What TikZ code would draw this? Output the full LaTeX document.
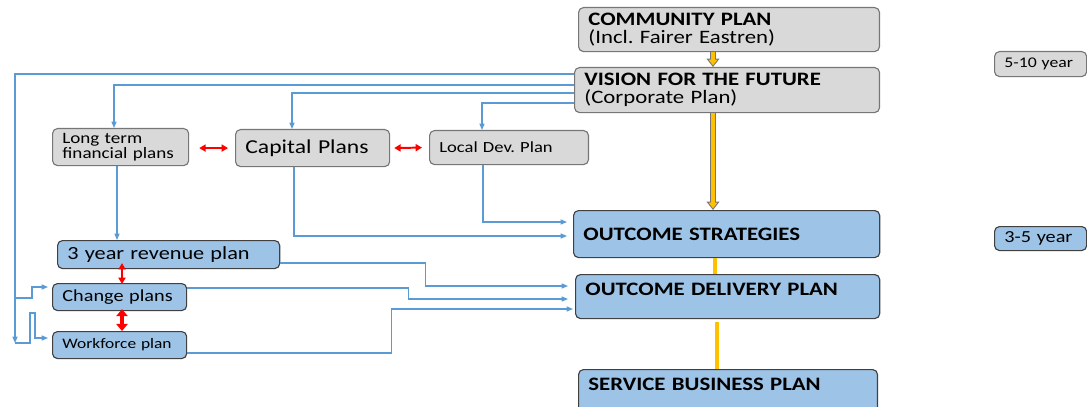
\documentclass[tikz,border=0pt]{standalone}
\usepackage{fontspec}
\setmainfont{Carlito}[FakeStretch=1.2]
\frenchspacing
\usetikzlibrary{arrows.meta, positioning, calc}
\definecolor{boxgray}{HTML}{D9D9D9}
\definecolor{boxblue}{HTML}{9DC3E6}
\definecolor{linkblue}{HTML}{5B9BD5}
\definecolor{gold}{HTML}{FFC000}
\definecolor{edgegray}{HTML}{767676}

\begin{document}
\begin{tikzpicture}[x=0.025cm, y=-0.025cm,
  plan/.style={draw=edgegray, fill=boxgray, rounded corners=3.5pt, anchor=north west,
    align=left, inner xsep=7pt, inner ysep=1pt, line width=0.8pt},
  bplan/.style={plan, draw=black!75, fill=boxblue},
  head/.style={font=\fontsize{13.5}{12.7}\selectfont},
  bhead/.style={font=\bfseries\fontsize{13.5}{15}\selectfont},
  link/.style={draw=linkblue, line width=0.8pt, -{Triangle[length=4.5pt, width=3.6pt]}},
  redarr/.style={red, line width=1.4pt, {Triangle[length=4.5pt, width=5pt]}-{Triangle[length=4.5pt, width=5pt]}},
  goldedge/.style={edgegray, line width=4.2pt, -{Triangle[length=6pt, width=9pt]}},
  goldfill/.style={gold, line width=2.4pt, shorten >=1.2pt, -{Triangle[length=4pt, width=6pt]}}]

\useasboundingbox (0,0) rectangle (1087,407);

% main column
\node[plan, head, text width=7.03cm, minimum height=1.1cm] (cp) at (578,7) {\textbf{COMMUNITY PLAN}\\(Incl. Fairer Eastren)};
\node[plan, head, text width=7.13cm, minimum height=1.125cm] (vis) at (574,67) {\textbf{VISION FOR THE FUTURE}\\(Corporate Plan)};
\node[bplan, bhead, text width=7.16cm, minimum height=1.175cm] (ost) at (573,210) {OUTCOME STRATEGIES};
\node[bplan, bhead, text width=7.11cm, minimum height=1.1cm, text depth=10pt] (odp) at (575,274) {OUTCOME DELIVERY PLAN};
\node[bplan, bhead, text width=6.98cm, minimum height=1.125cm, text depth=10.5pt] (sbp) at (578,369) {SERVICE BUSINESS PLAN};

% time scales
\node[plan, font=\fontsize{10.5}{12}\selectfont, text width=1.81cm, minimum height=0.625cm] (y510) at (994,51) {5-10 year};
\node[bplan, font=\fontsize{12}{14}\selectfont, text width=1.81cm, minimum height=0.6cm] (y35) at (994,226) {3-5 year};

% supporting plans
\node[plan, font=\fontsize{11.3}{9}\selectfont, text width=2.91cm, minimum height=0.925cm] (ltf) at (52,128) {Long term\\financial plans};
\node[plan, font=\fontsize{14}{16}\selectfont, text width=3.36cm, minimum height=0.925cm] (cap) at (235,129) {Capital Plans};
\node[plan, font=\fontsize{11}{13}\selectfont, text width=3.48cm, minimum height=0.85cm] (ldp) at (429,130) {Local Dev. Plan};
\node[bplan, font=\fontsize{13.2}{15}\selectfont, text width=5.06cm, minimum height=0.7cm] (rev) at (57,240) {3 year revenue plan};
\node[bplan, font=\fontsize{12}{14}\selectfont, text width=2.86cm, minimum height=0.675cm] (chg) at (52,283) {Change plans};
\node[bplan, font=\fontsize{10.3}{12}\selectfont, text width=2.86cm, minimum height=0.675cm] (wfp) at (52,331) {Workforce plan};

% gold flow down the column
\draw[goldedge] ($(cp.south west)+(135,0)$) -- ($(vis.north west)+(139,0)$);
\draw[goldfill] ($(cp.south west)+(135,0)$) -- ($(vis.north west)+(139,0)$);
\draw[goldedge] ($(vis.south west)+(139,0)$) -- ($(ost.north west)+(140,0)$);
\draw[goldfill] ($(vis.south west)+(139,0)$) -- ($(ost.north west)+(140,0)$);
\draw[gold, line width=2.8pt] ($(ost.south west)+(142,0)$) -- ($(odp.north west)+(140,0)$);
\draw[gold, line width=2.8pt] ($(odp.south west)+(142,3)$) -- ($(sbp.north west)+(139,0)$);

% links out of the vision
\coordinate (bus) at (15,343);
\coordinate (jc) at (15,298);
\draw[link] ($(vis.north west)+(0,7)$) -| (bus);
\draw[link] (jc) -- ++(17,0) |- ($(chg.north west)+(-4,4)$);
\draw[link] (bus) -- ++(15,0) -- ++(0,-30) -- ++(5,0) |- ($(wfp.north west)+(-4,7)$);
\draw[link] ($(vis.north west)+(0,18)$) -| ($(ltf.north west)+(62,0)$);
\draw[link] ($(vis.north west)+(0,26)$) -| ($(cap.north west)+(57,0)$);
\draw[link] ($(vis.north west)+(0,36)$) -| ($(ldp.north west)+(53,0)$);

% links into the outcomes
\draw[link] ($(ltf.south west)+(65,0)$) -- ($(rev.north west)+(60,0)$);
\draw[link] ($(cap.south west)+(59,0)$) |- ($(ost.north west)+(-6,26)$);
\draw[link] ($(ldp.south west)+(54,0)$) |- ($(ost.north west)+(-6,12)$);
\draw[link] ($(rev.north east)+(0,23)$) -- ++(145,0) |- ($(odp.north west)+(-7,12)$);
\draw[link] ($(chg.north east)+(0,5)$) -- ++(221,0) |- ($(odp.north west)+(-7,25)$);
\draw[link] ($(wfp.north east)+(0,22)$) -- ++(204,0) |- ($(odp.north west)+(-2,35)$);

% red two-way links
\draw[redarr] ($(ltf.east)+(10,1)$) -- ($(cap.west)+(-7,0)$);
\draw[redarr] ($(cap.east)+(4,0)$) -- ($(ldp.west)+(-7,0)$);
\draw[redarr] ($(rev.south west)+(65,-6)$) -- ($(chg.north west)+(70,1)$);
\draw[redarr, line width=2.4pt, {Triangle[length=5pt, width=8pt]}-{Triangle[length=5pt, width=8pt]}] ($(chg.south west)+(70,-2)$) -- ($(wfp.north west)+(70,0)$);

\end{tikzpicture}
\end{document}
